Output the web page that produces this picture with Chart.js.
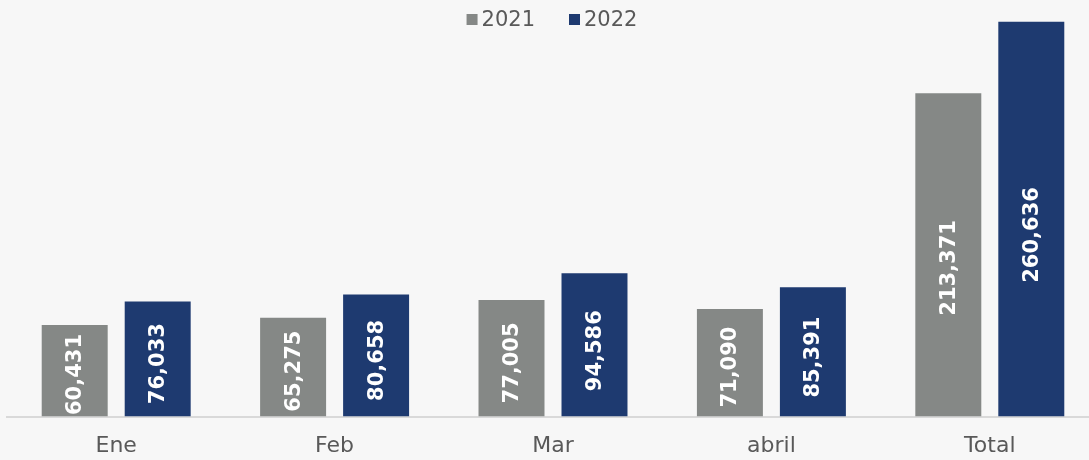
<!DOCTYPE html>
<html>
<head>
<meta charset="utf-8">
<script src="https://cdn.jsdelivr.net/npm/chart.js@4"></script>
<style>
  html, body { margin: 0; padding: 0; background: #f7f7f7; overflow: hidden; }
  #wrap { width: 1106px; height: 477px; }
</style>
</head>
<body>
<div id="wrap"><canvas id="myChart"></canvas></div>
<script>
// datos
const categorias = ['Ene', 'Feb', 'Mar', 'abril', 'Total'];
const serie2021 = [60431, 65275, 77005, 71090, 213371];
const serie2022 = [76033, 80658, 94586, 85391, 260636];
const colores = ['#858886', '#1e3a70'];

const fontFam = '"DejaVu Sans", sans-serif';

// etiquetas blancas giradas dentro de las barras
const etiquetasBarras = {
  id: 'etiquetasBarras',
  afterDatasetsDraw(chart) {
    const c = chart.ctx;
    c.save();
    c.fillStyle = '#ffffff';
    c.font = 'bold 21px ' + fontFam;
    c.textAlign = 'center';
    c.textBaseline = 'middle';
    chart.data.datasets.forEach((ds, i) => {
      chart.getDatasetMeta(i).data.forEach((bar, j) => {
        const h = bar.base - bar.y;
        const y = bar.base - h * 0.46;
        c.save();
        c.translate(bar.x, y);
        c.rotate(-Math.PI / 2);
        c.fillText(ds.data[j].toLocaleString('en-US'), 0, 1);
        c.restore();
      });
    });
    c.restore();
  }
};

// leyenda arriba al centro
const leyenda = {
  id: 'leyenda',
  afterDraw(chart) {
    const c = chart.ctx;
    c.save();
    c.font = '21px ' + fontFam;
    c.textBaseline = 'middle';
    const items = chart.data.datasets.map(ds => ({ t: ds.label, col: ds.backgroundColor }));
    const box = 11, gap = 4, sep = 34;
    let total = 0;
    items.forEach((it, k) => {
      it.w = c.measureText(it.t).width;
      total += box + gap + it.w + (k ? sep : 0);
    });
    let x = 552 - total / 2;
    const y = 20;
    items.forEach(it => {
      c.fillStyle = it.col;
      c.fillRect(x, y - 6, box, box);
      x += box + gap;
      c.fillStyle = '#595959';
      c.fillText(it.t, x, y + 1);
      x += it.w + sep;
    });
    c.restore();
  }
};

var ctx = document.getElementById('myChart').getContext('2d');
var myChart = new Chart(ctx, {
  type: 'bar',
  data: {
    labels: categorias,
    datasets: [
      { label: '2021', data: serie2021, backgroundColor: colores[0] },
      { label: '2022', data: serie2022, backgroundColor: colores[1] }
    ]
  },
  options: {
    responsive: true,
    maintainAspectRatio: false,
    animation: false,
    categoryPercentage: 0.76,
    barPercentage: 0.795,
    layout: { padding: { left: 7, right: 7, top: 0, bottom: 2 } },
    plugins: {
      legend: { display: false },
      tooltip: { enabled: false }
    },
    scales: {
      x: {
        grid: { display: false, drawTicks: false },
        border: { display: true, color: '#d9d9d9', width: 2 },
        ticks: { color: '#595959', padding: 16, font: { family: fontFam, size: 22 } }
      },
      y: {
        display: false,
        min: 0,
        max: 275000
      }
    }
  },
  plugins: [etiquetasBarras, leyenda]
});
</script>
</body>
</html>
